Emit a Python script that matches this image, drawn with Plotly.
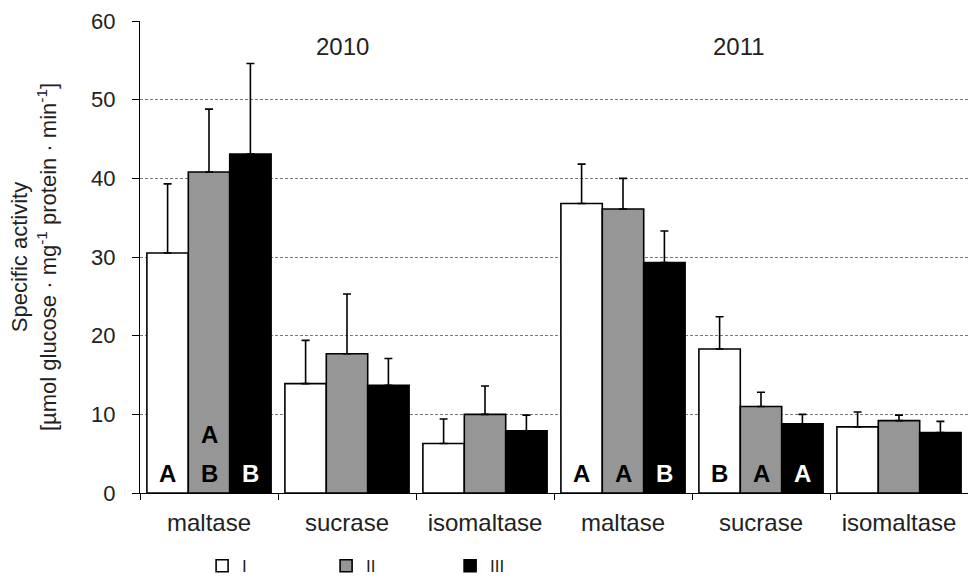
import plotly.graph_objects as go

# Enzyme categories (two sampling years, three enzymes each)
categories = ["maltase", "sucrase", "isomaltase", "maltase", "sucrase", "isomaltase"]
years = ["2010", "2011"]
series_names = ["I", "II", "III"]

# Mean specific activity per series
values_I = [30.5, 13.9, 6.3, 36.8, 18.3, 8.4]
values_II = [40.8, 17.7, 10.0, 36.1, 11.0, 9.2]
values_III = [43.1, 13.7, 7.9, 29.3, 8.8, 7.7]

# Upper error (SD)
err_I = [8.8, 5.5, 3.1, 5.0, 4.1, 1.9]
err_II = [8.0, 7.6, 3.6, 3.9, 1.8, 0.7]
err_III = [11.5, 3.4, 2.0, 4.0, 1.2, 1.4]

# Significance letters, listed bottom to top within each bar
letters_I = [["A"], [], [], ["A"], ["B"], []]
letters_II = [["B", "A"], [], [], ["A"], ["A"], []]
letters_III = [["B"], [], [], ["B"], ["A"], []]

y_ticks = [0, 10, 20, 30, 40, 50, 60]
grid_vals = [10, 20, 30, 40, 50]

x = list(range(len(categories)))
fills = ["#ffffff", "#969696", "#000000"]
letter_colors = ["#000000", "#000000", "#ffffff"]
all_values = [values_I, values_II, values_III]
all_err = [err_I, err_II, err_III]
all_letters = [letters_I, letters_II, letters_III]

FONT = "Liberation Sans, Arial, sans-serif"
TEXT = "#222222"

fig = go.Figure()
for name, vals, errs, fill in zip(series_names, all_values, all_err, fills):
    fig.add_trace(go.Bar(
        x=x, y=vals, name=name,
        marker=dict(color=fill, line=dict(color="#000000", width=1.6)),
        error_y=dict(type="data", array=errs, arrayminus=[0] * len(errs),
                     symmetric=False, color="#000000", thickness=1.6, width=4),
    ))

# Empty trace that carries the dashed grid axis
fig.add_trace(go.Scatter(x=[x[0]], y=[None], yaxis="y2", mode="markers",
                         showlegend=False, hoverinfo="skip"))

# Letters inside the bars
n_series = len(series_names)
bar_w = 0.9 / n_series
annotations = []
for s, (letters, col) in enumerate(zip(all_letters, letter_colors)):
    offset = (s - (n_series - 1) / 2) * bar_w
    for i, stack in enumerate(letters):
        for k, letter in enumerate(stack):
            annotations.append(dict(
                x=i + offset, y=2.5 + 4.9 * k, xref="x", yref="y",
                text=letter, showarrow=False,
                font=dict(family=FONT, size=24, color=col, weight="bold"),
                xanchor="center", yanchor="middle",
            ))

# Year headings
for yr, xpos in zip(years, [0.97, 3.84]):
    annotations.append(dict(
        x=xpos, y=56.7, xref="x", yref="y", text=yr, showarrow=False,
        font=dict(family=FONT, size=24, color=TEXT),
        xanchor="center", yanchor="middle",
    ))

fig.update_layout(
    width=968, height=581,
    margin=dict(l=140, r=0, t=21, b=88, autoexpand=False),
    paper_bgcolor="#ffffff", plot_bgcolor="#ffffff",
    barmode="group", bargap=0.1, bargroupgap=0,
    font=dict(family=FONT, color=TEXT),
    showlegend=True,
    legend=dict(orientation="h", x=0.075, y=-0.155, xanchor="left", yanchor="middle",
                font=dict(family=FONT, size=17, color=TEXT),
                entrywidth=79, entrywidthmode="pixels",
                itemclick=False, itemdoubleclick=False),
    annotations=annotations,
    xaxis=dict(
        range=[-0.5, len(categories) - 0.5],
        tickmode="array", tickvals=x, ticktext=categories,
        ticks="", showgrid=False, zeroline=False,
        showline=True, linecolor="#000000", linewidth=1.2,
        tickfont=dict(family=FONT, size=24, color=TEXT),
        ticklabelstandoff=8,
        minor=dict(tick0=-0.5, dtick=1, ticks="outside", ticklen=6,
                   tickcolor="#000000", tickwidth=1, showgrid=False),
    ),
    yaxis=dict(
        range=[0, 60], tickmode="array", tickvals=y_ticks,
        ticks="outside", ticklen=7, tickcolor="#000000", tickwidth=1,
        showgrid=False, zeroline=False,
        showline=True, linecolor="#000000", linewidth=1.2,
        tickfont=dict(family=FONT, size=22, color=TEXT),
        ticklabelstandoff=12,
        title=dict(text="Specific activity<br>[µmol glucose · mg<sup>-1</sup> protein · min<sup>-1</sup>]",
                   font=dict(family=FONT, size=22, color=TEXT), standoff=28),
    ),
    yaxis2=dict(
        range=[0, 60], overlaying="y", side="left",
        tickmode="array", tickvals=grid_vals,
        showticklabels=False, ticks="", showline=False, zeroline=False,
        showgrid=True, gridcolor="#7a7a7a", gridwidth=1, griddash="3px,2px",
        layer="below traces",
    ),
)

fig.write_html("out.html")
